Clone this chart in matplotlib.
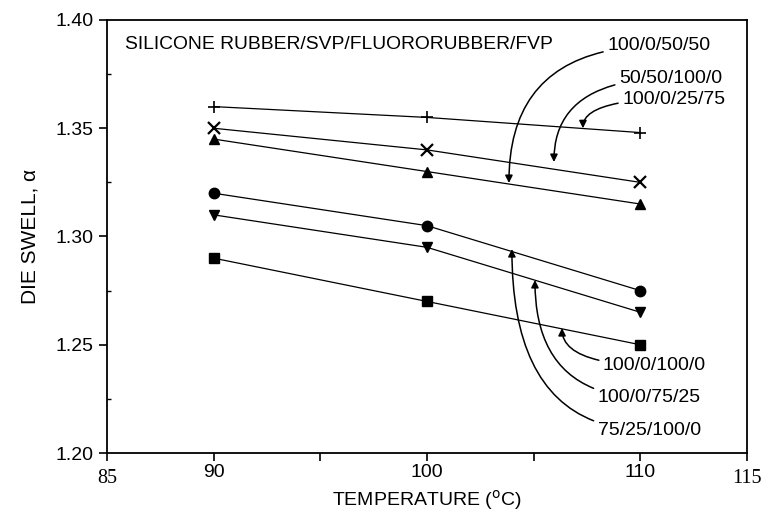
import matplotlib
matplotlib.use("Agg")
import matplotlib.pyplot as plt
from matplotlib.ticker import MultipleLocator

plt.rcParams['font.family'] = ['Liberation Sans', 'DejaVu Sans']

temps = [90, 100, 110]
s_plus = [1.360, 1.355, 1.348]     # 100/0/25/75
s_x = [1.350, 1.340, 1.325]        # 50/50/100/0
s_tri = [1.345, 1.330, 1.315]      # 100/0/50/50
s_circ = [1.320, 1.305, 1.275]     # 75/25/100/0
s_dtri = [1.310, 1.295, 1.265]     # 100/0/75/25
s_sq = [1.290, 1.270, 1.250]       # 100/0/100/0

x_ticks = [85, 90, 95, 100, 105, 110, 115]
x_tick_labels = ['85', '90', '', '100', '', '110', '115']
y_ticks = [1.20, 1.25, 1.30, 1.35, 1.40]
y_tick_labels = ['1.20', '1.25', '1.30', '1.35', '1.40']

fig = plt.figure(figsize=(7.66, 5.22), dpi=100)
ax = fig.add_axes([107/766, 1-453/522, 640/766, 433/522])

ax.plot(temps, s_plus, color='black', lw=0.9, marker='+', ms=9, mew=1.2)
ax.plot(temps, s_x, color='black', lw=0.9, marker='x', ms=8, mew=1.6)
ax.plot(temps, s_tri, color='black', lw=0.9, marker='^', ms=7.5)
ax.plot(temps, s_circ, color='black', lw=0.9, marker='o', ms=7.5)
ax.plot(temps, s_dtri, color='black', lw=0.9, marker='v', ms=7.5)
ax.plot(temps, s_sq, color='black', lw=0.9, marker='s', ms=6.5)

ax.set_xlim(85, 115)
ax.set_ylim(1.20, 1.40)
ax.set_xticks(x_ticks)
ax.set_xticklabels(x_tick_labels)
ax.set_yticks(y_ticks)
ax.set_yticklabels(y_tick_labels)
ax.yaxis.set_minor_locator(MultipleLocator(0.025))
ax.tick_params(axis='both', which='major', direction='out', length=6, width=1.2, labelsize=14)
ax.tick_params(axis='y', which='minor', direction='in', length=3, width=1)
ax.tick_params(axis='x', pad=2)
for lbl in ax.get_xticklabels():
    if lbl.get_text() in ('85', '115'):
        lbl.set_fontfamily('Liberation Serif')
        lbl.set_fontsize(14.5)
        lbl.set_y(-0.012)
for sp in ax.spines.values():
    sp.set_linewidth(1.3)

ax.set_ylabel('DIE SWELL, α', fontsize=15, labelpad=12)
ax.set_xlabel('TEMPERATURE ($^{\\mathrm{o}}$C)', fontsize=14, labelpad=0)

ax.text(85.85, 1.3885, 'SILICONE RUBBER/SVP/FLUORORUBBER/FVP', fontsize=13.9, va='center', ha='left')

fs = 14
def curve(label, xy, xytext):
    ax.annotate(label, xy=xy, xytext=xytext, fontsize=fs, ha='left', va='center',
                arrowprops=dict(arrowstyle='-|>', color='black', lw=1.1,
                                mutation_scale=11, shrinkA=1, shrinkB=0,
                                connectionstyle='angle3,angleA=0,angleB=90'))

curve('100/0/50/50', (103.84, 1.3247), (108.45, 1.388))
curve('50/50/100/0', (105.95, 1.3344), (109.0, 1.373))
curve('100/0/25/75', (107.31, 1.3500), (109.15, 1.3635))
curve('100/0/100/0', (106.33, 1.2577), (108.25, 1.2405))
curve('100/0/75/25', (105.06, 1.2799), (108.0, 1.2255))
curve('75/25/100/0', (103.98, 1.2942), (108.0, 1.2105))

fig.savefig('out.png', dpi=100)
